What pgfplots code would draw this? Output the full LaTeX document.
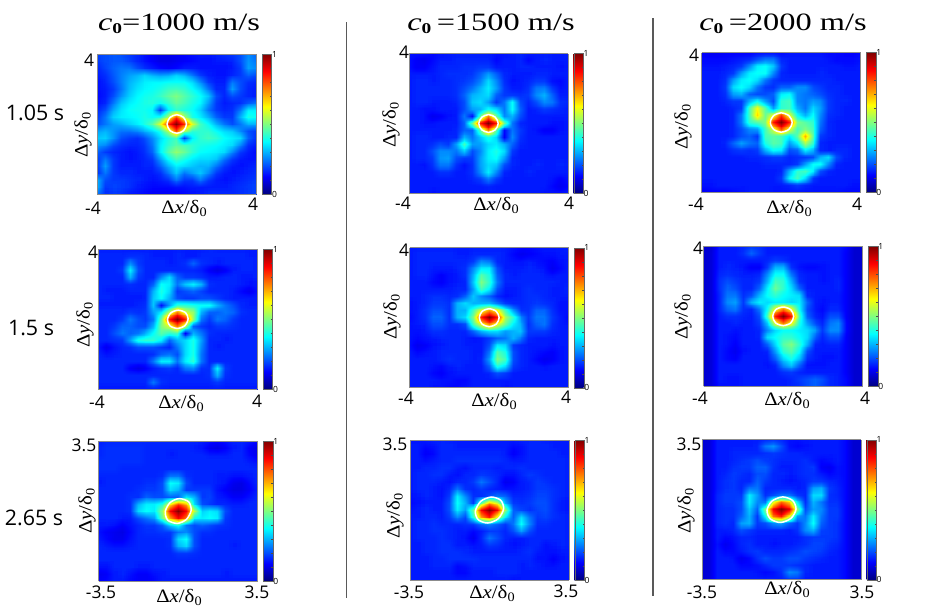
\documentclass[border=0pt]{standalone}
\usepackage{fontspec}
\setmainfont{Open Sans}
\newfontfamily\serifx{Liberation Serif}
\usepackage{pgfplots}
\usepgfplotslibrary{patchplots}
\pgfplotsset{compat=1.18}
% matlab jet
\pgfplotsset{colormap={mjet}{rgb(0pt)=(0,0,.5) rgb(1pt)=(0,0,1) rgb(3pt)=(0,1,1) rgb(5pt)=(1,1,0) rgb(7pt)=(1,0,0) rgb(8pt)=(.5,0,0)}}

% 21 x 21 values, percent, top row first
\def\dataA{%
19 20 21 20 18 16 14 12 11 11 12 13 14 15 15 16 17 18 20 26 22
18 20 21 21 19 16 14 12 10 10 11 12 13 14 14 15 15 16 20 27 24
16 19 22 24 24 20 17 15 13 12 13 15 15 14 14 14 14 15 18 28 26
15 17 21 25 28 30 33 30 28 29 33 30 24 18 15 14 14 16 18 22 20
14 16 20 25 30 33 36 37 37 38 38 38 34 26 18 15 15 24 20 17 16
14 15 18 24 31 35 37 38 40 43 44 42 38 33 24 16 16 28 20 16 15
13 15 20 27 33 37 39 40 43 47 50 46 42 38 32 20 16 20 18 16 15
14 16 24 32 36 38 40 41 38 42 47 44 40 37 28 18 15 16 17 21 24
16 20 29 35 38 39 39 37 18 36 42 40 38 33 24 18 16 17 24 36 36
18 24 33 36 37 38 40 38 40 55 80 55 40 36 30 22 18 18 30 40 38
20 24 28 30 33 36 40 46 60 84 100 84 60 44 38 30 24 20 24 30 30
28 30 27 24 24 26 30 34 40 55 80 55 42 42 42 38 34 32 26 20 18
32 33 27 20 18 17 20 26 34 40 44 18 36 42 44 42 38 36 34 22 17
28 26 20 17 16 16 18 24 36 42 46 44 42 40 39 38 36 34 26 17 15
22 18 16 15 14 15 17 22 36 46 52 48 42 38 37 36 34 26 18 15 13
18 24 18 15 14 15 16 18 28 38 44 40 36 34 34 32 24 18 15 14 14
18 28 18 15 15 15 16 16 22 30 36 34 32 30 30 24 18 15 14 15 16
17 24 18 16 16 15 15 15 17 24 32 24 28 32 26 18 15 14 15 16 17
30 20 18 18 17 16 15 14 15 17 24 18 18 24 18 15 14 15 16 17 18
30 18 19 18 17 15 14 13 13 13 14 14 15 15 15 15 15 16 17 18 19
24 17 18 17 15 14 13 12 12 12 12 13 14 15 16 16 16 16 17 18 19
}
\def\dataB{%
14 14 14 13 14 15 15 15 15 15 15 14 14 15 16 15 15 15 15 15 16
14 12 11 13 15 15 16 16 16 16 16 13 15 15 16 13 15 16 15 15 15
14 12 12 14 16 16 16 17 17 18 18 15 15 15 16 16 15 15 15 14 15
15 15 15 15 16 17 17 17 18 22 28 22 16 15 15 15 16 16 15 15 15
15 16 16 15 16 16 17 18 20 25 34 26 17 14 15 16 18 18 14 13 15
15 16 16 16 16 16 17 20 24 30 36 28 18 15 15 17 24 25 18 14 15
15 16 16 16 16 16 17 22 30 32 34 22 18 18 17 18 26 30 22 15 15
15 16 16 15 15 15 16 20 32 34 28 18 24 38 20 16 20 26 24 17 16
15 15 14 14 15 15 15 20 28 30 38 34 24 38 22 15 16 18 17 16 15
15 15 14 11 12 14 15 24 14 46 75 48 26 30 20 15 15 15 15 15 15
15 15 14 14 15 15 15 22 48 85 100 85 48 24 16 15 15 15 14 14 15
15 15 15 15 15 15 16 22 22 46 75 46 13 24 18 15 14 12 12 14 15
15 16 16 15 15 16 16 30 24 32 40 34 12 26 17 15 15 15 15 15 15
15 16 16 17 20 18 28 44 28 28 34 36 30 22 16 15 15 15 15 15 15
15 16 16 20 26 26 24 32 20 26 36 40 34 18 15 15 15 15 15 15 15
15 16 16 18 27 28 20 18 18 28 36 38 28 16 15 15 15 15 15 15 15
15 15 14 17 24 24 17 14 17 28 34 32 20 16 15 15 16 15 15 16 15
15 15 15 15 17 17 15 15 17 26 36 26 16 15 15 16 15 15 15 15 15
15 15 15 15 15 15 15 15 16 18 24 18 15 15 15 15 15 15 14 12 14
15 15 15 15 15 15 15 15 15 15 16 15 15 15 15 15 15 15 13 11 13
15 15 15 14 15 15 15 15 15 15 15 15 15 15 15 15 15 14 14 14 15
}
\def\dataC{%
12 11 11 12 12 12 12 13 13 13 13 14 14 14 14 14 13 13 12 12 13
13 13 13 13 14 15 16 20 24 24 16 15 15 15 15 15 14 13 13 13 14
14 14 14 15 16 18 26 36 38 32 18 15 15 15 15 15 15 15 14 14 15
15 15 15 16 18 28 36 38 38 26 16 15 15 15 15 16 15 15 15 15 15
15 15 15 17 28 36 38 34 24 18 16 16 16 16 16 16 16 15 15 15 15
15 15 15 18 34 38 34 24 18 17 22 22 26 26 20 18 16 16 15 15 15
15 15 15 17 28 30 22 20 20 22 36 38 26 24 22 20 17 16 15 15 15
15 15 15 16 18 18 30 38 28 20 42 44 26 24 28 26 18 16 16 15 15
15 15 15 15 16 18 44 62 46 28 42 44 30 24 34 28 18 16 15 15 15
15 15 15 15 16 24 44 66 48 60 82 60 38 30 38 26 17 16 15 15 15
15 15 15 15 16 24 42 46 50 85 100 85 50 46 42 24 16 15 15 15 15
15 15 15 15 16 20 26 28 44 58 80 60 44 50 44 22 16 15 15 15 15
15 15 15 15 16 20 22 18 44 46 44 36 46 70 46 18 16 15 15 15 15
15 15 15 16 22 28 24 22 40 46 44 28 36 54 42 16 15 15 15 15 15
15 15 15 15 17 18 17 18 30 38 36 20 22 36 30 16 15 16 16 15 15
15 15 15 15 15 15 16 16 17 18 18 16 17 18 20 30 34 20 16 15 15
15 15 15 15 15 15 15 15 16 16 16 16 18 28 38 38 26 16 15 15 15
15 15 15 15 15 15 15 15 15 15 16 30 42 44 36 20 16 15 15 15 15
15 15 15 15 15 15 15 15 15 15 18 36 44 34 18 15 15 15 15 15 15
14 14 15 15 15 15 15 15 15 15 15 16 18 16 15 15 15 15 15 14 14
11 12 12 12 13 14 15 15 15 14 14 14 14 14 14 14 14 14 13 13 13
}
\def\dataD{%
15 15 15 15 15 15 15 15 15 15 15 15 15 15 16 15 15 15 15 15 15
16 16 16 16 17 17 16 15 15 15 16 15 15 16 16 16 16 16 16 15 15
16 16 16 16 26 18 16 16 16 15 16 17 22 17 16 15 16 16 16 16 15
16 16 16 18 36 20 16 16 16 16 16 16 16 15 12 10 12 15 16 16 15
16 16 16 16 30 18 16 16 26 34 22 18 18 17 15 15 16 16 15 15 16
16 16 16 16 17 16 16 22 38 36 24 32 36 30 17 16 16 16 15 14 15
16 15 15 15 16 16 16 30 40 34 18 20 22 19 16 16 16 15 13 11 14
16 16 15 15 15 15 16 32 38 30 20 18 18 20 20 18 16 15 15 15 15
15 15 15 15 15 16 17 32 14 28 42 42 40 38 38 30 24 20 16 15 15
16 16 16 16 18 17 18 28 36 55 75 58 52 30 22 22 24 22 17 16 16
16 16 16 18 24 20 18 24 48 85 100 85 52 24 18 24 22 18 16 16 16
16 16 18 22 22 20 20 30 50 58 76 55 22 18 16 18 18 17 16 16 16
16 16 20 24 22 24 30 38 46 42 44 12 30 24 17 16 16 16 16 16 16
16 16 17 18 28 40 42 42 36 22 30 34 40 28 16 16 15 16 16 16 16
15 11 14 16 17 20 20 20 18 16 24 34 40 26 16 15 16 16 16 16 16
16 14 15 16 16 16 16 17 22 24 20 34 40 24 16 16 16 16 16 16 16
16 16 16 16 16 16 16 24 36 36 24 36 42 24 16 16 16 16 16 16 16
16 16 16 16 12 10 12 15 17 18 16 24 26 17 17 36 18 16 16 16 16
16 16 16 16 16 16 16 16 16 16 16 16 16 16 17 30 17 16 16 16 16
16 16 16 16 16 16 16 24 17 16 16 16 16 16 16 18 16 16 16 16 16
15 15 15 15 15 15 15 15 15 15 15 15 15 15 15 15 15 15 15 15 15
}
\def\dataE{%
15 15 15 15 15 15 15 15 15 15 15 15 15 14 13 13 14 15 15 15 16
15 16 16 16 16 16 15 15 16 16 16 16 15 13 11 12 13 14 14 15 15
15 16 16 16 16 16 16 16 18 26 24 16 15 14 14 15 14 13 12 14 15
15 16 16 15 15 15 16 17 26 36 36 20 15 15 15 16 15 14 11 13 15
15 16 16 14 12 14 15 17 30 46 40 22 16 15 16 16 16 15 14 15 15
15 15 15 13 12 14 15 16 32 50 42 24 16 16 16 16 16 16 16 15 15
15 15 15 15 15 15 16 16 28 44 36 20 15 15 16 17 16 16 15 15 16
15 15 16 17 17 16 17 22 32 26 22 16 14 15 16 17 17 16 15 15 15
14 15 16 18 18 17 30 34 30 30 30 24 18 16 16 17 18 17 16 14 14
14 15 17 20 20 17 30 30 44 60 72 62 44 28 17 17 22 22 17 14 14
13 15 17 22 22 17 30 34 50 85 100 85 54 42 26 18 24 24 18 15 13
14 15 16 20 20 17 17 20 44 60 74 60 48 36 30 17 22 24 17 15 14
14 14 15 17 17 16 16 16 22 30 34 34 28 30 32 18 18 18 16 15 15
14 13 14 15 16 16 16 15 14 15 18 22 24 30 24 16 15 15 15 15 15
14 11 12 14 15 16 16 15 15 15 20 36 34 18 16 15 15 15 14 15 15
15 13 14 15 16 16 16 16 15 15 24 46 40 20 16 15 14 13 12 14 15
15 15 15 15 16 17 16 16 15 16 28 50 44 20 16 15 13 11 12 14 15
15 15 15 14 13 15 16 15 15 15 22 40 34 18 16 15 15 14 15 15 15
15 15 15 13 12 14 15 15 15 15 16 20 18 15 15 15 15 15 15 15 15
15 15 15 15 14 14 13 13 15 15 15 15 15 15 15 15 15 15 15 15 15
15 15 15 14 14 13 13 14 15 15 15 15 14 15 15 15 15 15 15 15 15
}
\def\dataF{%
8 8 15 15 15 16 18 17 15 15 15 15 15 15 15 15 15 15 13 8 8
8 9 15 15 15 17 22 18 15 15 15 15 15 15 15 15 15 15 12 8 8
8 9 15 15 15 15 15 15 16 18 17 15 15 15 15 15 15 15 12 8 8
8 9 15 16 15 14 12 12 18 30 30 17 14 13 13 14 15 15 12 8 8
8 9 16 17 16 15 15 16 26 38 38 24 16 15 15 14 15 15 12 8 8
8 9 17 20 18 16 16 18 30 44 42 30 17 15 15 14 15 16 12 8 8
8 9 17 22 20 16 16 22 36 48 42 34 22 15 15 15 15 16 12 8 8
8 9 16 24 24 17 20 30 38 42 38 36 34 16 15 15 15 15 12 8 8
8 9 16 26 28 18 30 36 34 36 36 34 36 22 15 14 15 15 12 8 8
8 9 16 22 24 17 16 24 38 62 76 62 38 20 15 13 16 16 12 8 8
8 9 15 17 17 16 15 20 44 85 100 85 44 22 16 14 20 20 12 8 8
8 9 15 15 16 15 15 18 32 60 76 62 40 28 20 16 24 26 13 8 8
8 9 15 15 14 15 15 16 26 34 38 38 36 34 28 18 26 26 13 8 8
8 9 15 14 13 15 15 16 34 38 42 42 38 34 22 16 20 20 12 8 8
8 9 15 14 12 15 15 15 22 34 46 50 42 30 16 15 16 16 12 8 8
8 9 15 13 11 14 15 15 16 28 42 46 38 20 15 15 15 15 12 8 8
8 9 15 13 12 15 15 15 15 22 34 40 32 17 15 14 14 15 12 8 8
8 9 15 15 15 15 15 15 14 16 26 32 22 14 14 14 15 15 12 8 8
8 9 15 15 15 15 15 15 15 15 17 18 16 15 15 15 15 15 12 8 8
8 9 15 14 14 15 15 15 15 15 15 16 18 20 22 20 16 15 13 8 8
8 9 14 14 14 15 15 15 15 15 15 16 17 20 22 19 16 15 13 8 8
}
\def\dataG{%
15 16 16 16 16 16 16 16 16 16 16 16 16 15 14 13 14 16 16 15 13
16 17 17 17 17 17 16 16 16 16 16 16 15 14 11 10 12 15 16 12 10
16 17 17 17 17 17 16 16 16 15 16 16 16 16 15 15 15 16 16 13 11
17 17 17 17 17 17 16 16 16 16 16 16 16 16 16 16 16 16 16 15 14
17 17 17 16 16 16 16 16 16 16 16 16 16 16 16 16 16 16 16 16 16
16 16 16 16 16 16 16 16 17 24 24 17 16 16 16 15 15 14 14 15 16
15 16 16 16 16 16 17 17 20 38 36 20 16 16 16 15 14 11 10 13 16
16 16 16 16 16 17 18 18 20 34 30 18 18 18 18 14 12 10 10 12 15
16 16 16 16 17 17 22 20 20 22 22 36 30 18 19 15 14 12 12 14 16
16 16 16 16 17 30 36 36 40 62 80 68 34 20 18 16 16 15 15 16 16
16 16 16 16 17 34 38 36 52 88 100 88 56 33 36 34 20 16 16 16 16
16 16 16 15 15 20 24 28 48 72 88 76 38 36 38 36 18 16 16 16 16
15 15 14 12 14 16 18 18 22 34 40 24 20 22 20 18 17 16 16 16 16
14 12 11 10 13 16 17 17 18 18 24 26 20 17 17 16 16 16 16 16 16
15 13 11 11 14 16 16 16 16 17 34 38 20 16 16 16 16 16 16 16 16
16 15 14 14 15 16 16 16 16 17 30 34 20 16 16 16 16 15 16 16 16
16 16 16 16 16 16 16 16 16 16 18 18 17 16 16 16 16 16 16 16 16
16 16 16 16 16 16 16 16 16 16 16 16 16 16 16 16 16 16 16 16 16
14 14 16 16 16 15 15 16 16 16 16 16 16 16 16 16 16 16 16 16 16
11 12 15 16 14 12 12 14 15 16 16 16 16 16 16 16 15 16 16 16 16
12 13 15 15 13 12 12 13 15 15 15 15 15 15 15 15 15 15 15 15 15
}
\def\dataH{%
14 14 15 16 16 15 15 15 15 15 15 15 15 15 16 16 16 15 15 15 15
15 15 13 14 16 16 15 15 15 15 15 15 15 13 14 16 16 16 15 15 15
15 15 12 13 16 16 16 16 16 16 16 16 15 12 14 16 16 16 16 15 15
15 15 14 15 16 16 17 17 17 17 17 17 16 15 15 16 16 16 16 16 15
15 15 16 16 17 17 15 14 16 16 16 15 16 16 17 16 16 16 16 16 15
15 16 16 17 17 15 14 16 16 18 17 16 14 14 16 18 17 16 16 16 15
15 16 16 16 15 14 16 16 18 24 20 16 11 12 15 16 18 17 16 16 15
15 16 16 15 14 16 24 17 16 18 16 15 14 14 15 16 18 18 17 16 15
14 15 16 15 14 18 36 26 17 17 20 24 22 16 16 17 19 19 17 16 15
13 14 15 15 15 20 38 30 18 46 70 58 30 18 17 18 20 20 17 15 14
14 15 16 15 15 20 36 28 48 88 100 88 52 22 19 17 19 20 17 15 14
15 15 16 16 15 18 26 20 42 72 85 60 36 22 34 24 18 19 17 16 15
15 16 16 17 16 16 16 17 18 24 26 22 18 24 38 26 17 17 16 16 15
15 16 16 17 17 16 15 15 13 15 18 18 16 20 28 20 16 16 16 16 15
15 16 16 16 17 16 15 14 11 16 24 20 16 15 15 16 16 16 16 16 15
15 15 16 16 17 17 15 15 14 15 18 17 15 14 15 16 16 14 15 16 15
15 15 16 16 17 17 17 16 15 15 15 15 15 15 16 17 15 14 14 15 15
15 15 15 16 16 17 17 17 17 16 16 16 16 16 16 16 14 14 12 14 15
15 15 15 16 16 16 13 14 16 16 16 16 16 16 15 16 15 14 14 15 15
15 15 15 15 15 15 13 13 15 15 15 16 16 16 15 15 15 15 15 15 15
15 15 15 15 15 15 15 15 15 15 15 15 15 14 15 15 15 15 15 15 15
}
\def\dataI{%
8 9 15 15 15 15 15 15 16 17 16 14 14 15 15 15 15 15 13 8 8
8 9 15 15 15 15 15 16 24 27 20 14 13 14 15 15 15 15 13 8 8
8 9 15 15 16 16 16 16 17 18 17 16 16 15 15 15 15 15 13 8 8
8 9 15 15 16 17 18 20 18 17 16 16 16 17 15 13 14 15 13 8 8
8 9 15 15 17 18 18 22 22 17 15 15 16 17 18 12 11 14 13 8 8
8 9 15 16 18 17 16 20 20 16 16 15 16 17 17 15 13 14 13 8 8
8 9 15 17 18 16 16 22 18 16 15 14 15 16 18 18 16 15 13 8 8
8 9 15 17 18 16 24 24 16 16 16 16 15 16 28 30 18 16 13 8 8
8 9 16 18 18 18 36 28 17 20 24 24 18 16 34 34 17 16 13 8 8
8 9 16 18 18 20 36 26 24 60 78 68 36 17 30 24 17 17 13 8 8
8 9 16 17 17 20 32 22 50 88 100 90 52 20 28 26 18 18 13 8 8
8 9 16 17 17 22 30 18 38 76 85 62 28 24 36 24 18 18 13 8 8
8 9 16 17 16 28 30 18 20 26 28 22 18 26 38 22 18 17 13 8 8
8 9 15 15 16 20 18 16 16 16 16 15 17 26 30 19 18 17 13 8 8
8 9 15 13 14 16 16 15 15 15 15 15 15 17 18 18 18 17 13 8 8
8 9 14 11 13 16 17 15 15 14 15 15 16 17 19 19 17 16 13 8 8
8 9 15 13 13 15 17 18 16 16 16 17 18 20 19 18 16 15 13 8 8
8 9 15 15 14 11 13 17 20 18 18 20 20 18 17 16 15 15 13 8 8
8 9 15 15 15 13 13 14 16 18 18 18 17 16 15 15 15 15 13 8 8
8 9 15 15 15 15 15 14 13 14 17 26 24 16 15 15 15 15 13 8 8
8 9 15 15 15 15 15 15 15 15 15 18 18 15 15 15 15 15 13 8 8
}

% turn a value list into (x,y,z) triples
\newcount\heatcol \newcount\heatrow
\def\heatstop{END}
\def\heatnext#1 {\def\heattmp{#1}\ifx\heattmp\heatstop\else
  \pgfmathsetmacro\heatx{\heathalf*(\the\heatcol-10)/10}%
  \pgfmathsetmacro\heaty{\heathalf*(10-\the\heatrow)/10}%
  \pgfmathsetmacro\heatz{#1/100}%
  \xdef\heatcoords{\heatcoords (\heatx,\heaty,\heatz)}%
  \advance\heatcol 1 \ifnum\heatcol=21 \heatcol=0 \advance\heatrow 1 \fi
  \expandafter\heatnext\fi}

% left, top, half range, values, white contour
\newcommand{\panel}[5]{%
  \def\heathalf{#3}\heatcol=0 \heatrow=0 \gdef\heatcoords{}%
  \expandafter\heatnext#4END {}%
  \begin{axis}[
    at={(#1bp,-#2bp)}, anchor=north west,
    scale only axis, width=159bp, height=140bp,
    view={0}{90}, xmin=-#3, xmax=#3, ymin=-#3, ymax=#3, zmin=0, zmax=1,
    xtick=\empty, ytick=\empty, ztick=\empty,
    axis line style={black!45, line width=.5pt},
    colormap name=mjet, point meta min=0, point meta max=1,
    colorbar,
    colorbar style={
      at={(1.036,1)}, anchor=north west, width=9.3bp,
      ytick={0,0.1,0.2,0.3,0.4,0.5,0.6,0.7,0.8,0.9,1},
      yticklabels={0,,,,,,,,,,1},
      ytick pos=right, yticklabel pos=right,
      tick align=inside, major tick length=1.5bp,
      tick style={black!70, line width=.3pt},
      axis line style={black!60, line width=.4pt},
      yticklabel style={font=\fontsize{8.5}{9}\selectfont, inner sep=1pt, xshift=-.5bp},
    },
  ]
    \edef\doplot{\noexpand\addplot3[surf, shader=interp, patch type=bilinear, mesh/cols=21] coordinates {\heatcoords};}
    \doplot
    \addplot3[white, line width=1.5bp, smooth cycle, no marks] coordinates {#5};
  \end{axis}%
}

\newcommand{\titlelab}[2]{\scalebox{1.3}[1]{\fontsize{25}{27}\selectfont\serifx{\itshape c}\raisebox{-3.5bp}{\fontsize{15}{15}\selectfont\bfseries 0}#1=#2 m/s}}
\newcommand{\dxlab}{\scalebox{1.1}[1]{\fontsize{19}{21}\selectfont\serifx Δ{\itshape x}/δ\raisebox{-3bp}{\fontsize{13}{13}\selectfont 0}}}
\newcommand{\dylab}{\scalebox{1.1}[1]{\fontsize{19}{21}\selectfont\serifx Δ{\itshape y}/δ\raisebox{-3bp}{\fontsize{13}{13}\selectfont 0}}}

\begin{document}
\begin{tikzpicture}
\path[use as bounding box] (0,0) rectangle (926bp,-608bp);

\panel{97.3}{54}{4}{\dataA}{(.49,0,1)(.34,.38,1)(0,.53,1)(-.34,.38,1)(-.49,0,1)(-.34,-.38,1)(0,-.53,1)(.34,-.38,1)}
\panel{409}{53.5}{4}{\dataB}{(.49,0,1)(.34,.36,1)(0,.51,1)(-.34,.36,1)(-.49,0,1)(-.34,-.36,1)(0,-.51,1)(.34,-.36,1)}
\panel{701.7}{52.5}{4}{\dataC}{(.55,0,1)(.39,.39,1)(0,.55,1)(-.39,.39,1)(-.55,0,1)(-.39,-.39,1)(0,-.55,1)(.39,-.39,1)}
\panel{98.3}{249.3}{4}{\dataD}{(.52,.02,1)(.39,.38,1)(.02,.52,1)(-.35,.37,1)(-.52,-.02,1)(-.39,-.38,1)(-.02,-.52,1)(.35,-.37,1)}
\panel{409.7}{247.7}{4}{\dataE}{(.50,0,1)(.36,.36,1)(0,.51,1)(-.36,.36,1)(-.50,0,1)(-.36,-.36,1)(0,-.51,1)(.36,-.36,1)}
\panel{703.7}{246.3}{4}{\dataF}{(.53,0,1)(.38,.38,1)(0,.53,1)(-.38,.38,1)(-.53,0,1)(-.38,-.38,1)(0,-.53,1)(.38,-.38,1)}
\panel{98.7}{441}{3.5}{\dataG}{(.57,.03,1)(.46,.46,1)(.04,.62,1)(-.36,.42,1)(-.57,-.03,1)(-.46,-.46,1)(-.04,-.62,1)(.36,-.42,1)}
\panel{410}{440}{3.5}{\dataH}{(.62,.05,1)(.50,.48,1)(.08,.65,1)(-.38,.44,1)(-.62,-.05,1)(-.50,-.48,1)(-.08,-.65,1)(.38,-.44,1)}
\panel{702}{439.7}{3.5}{\dataI}{(.64,.03,1)(.49,.46,1)(.05,.64,1)(-.42,.43,1)(-.64,-.03,1)(-.49,-.46,1)(-.05,-.64,1)(.42,-.43,1)}

\begin{scope}[x=1bp,y=-1bp]
  % separators
  \draw[black!65, line width=1.3bp] (346.5,22) -- (346.5,598);
  \draw[black!65, line width=1.3bp] (653,18) -- (653,596);

  % titles
  \node at (179,24) {\titlelab{}{1000}};
  \node at (491,24) {\titlelab{\,}{1500}};
  \node at (783,24) {\titlelab{\,}{2000}};

  % row labels
  \begin{scope}[every node/.style={font=\fontsize{21.5}{24}\selectfont}]
    \node at (35,113) {1.05 s};
    \node at (31,328) {1.5 s};
    \node at (34,518) {2.65 s};
  \end{scope}

  % axis labels
  \foreach \x/\y in {184/208,496/205,789/208,181/403,494/401,787/400,179/597,492/593,787/589}
    \node at (\x,\y) {\dxlab};
  \foreach \x/\y in {83/135,391/125,683/127,85/325,392/317,683/317,87/511,395/516,686/511}
    \node[rotate=90] at (\x,\y) {\dylab};

  % range labels
  \begin{scope}[every node/.style={font=\fontsize{17.5}{20}\selectfont}]
    \foreach \x/\y/\t in {89/60/4,93/208/-4,253/204/4,404/52/4,403/203/-4,569/203/4,694/55/4,696/204/-4,857/204/4,
                          93/252/4,97/402/-4,257/401/4,404/250/4,406/398/-4,566/397/4,698/248/4,700/398/-4,865/398/4,
                          84/445/3.5,101/592/-3.5,257/592/3.5,395/444/3.5,409/592/-3.5,566/591/3.5,689/444/3.5,702/592/-3.5,862/592/3.5}
      \node at (\x,\y) {\t};
  \end{scope}
\end{scope}
\end{tikzpicture}
\end{document}
